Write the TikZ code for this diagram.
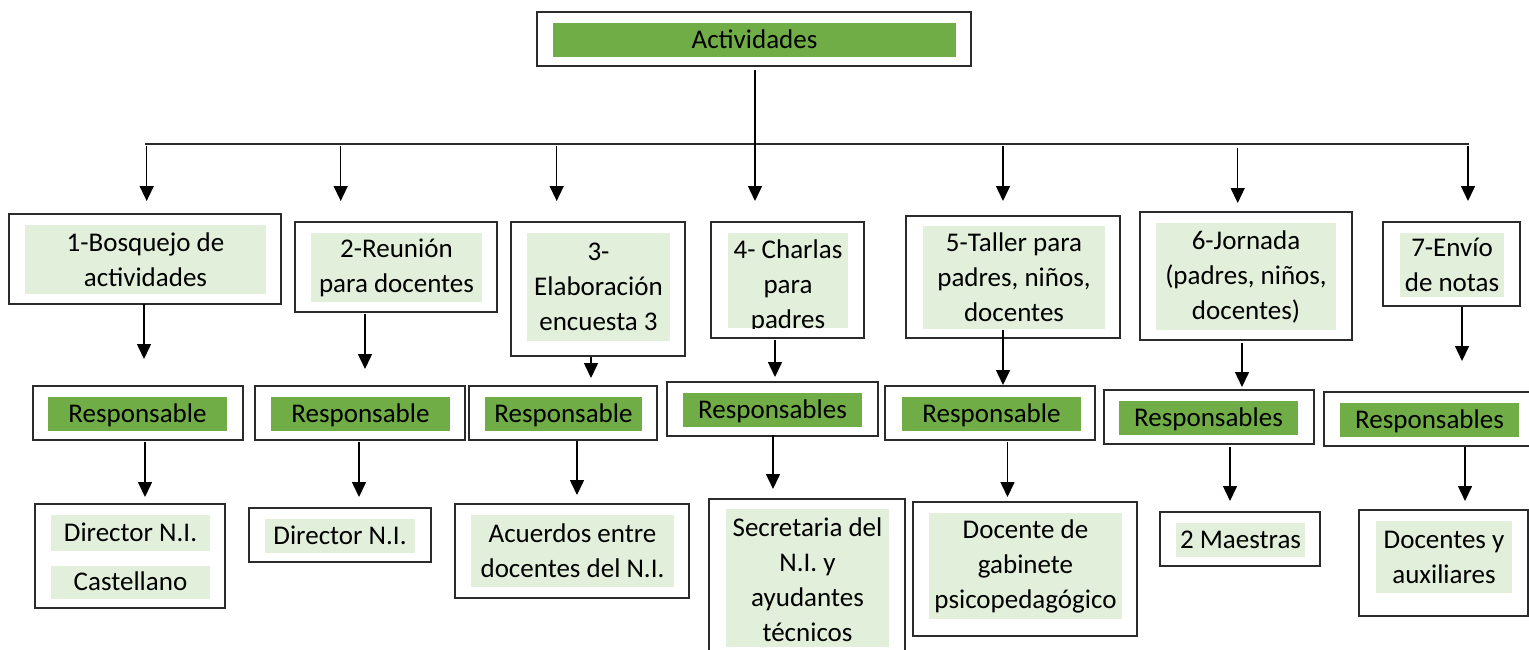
\documentclass[tikz,border=0pt]{standalone}
\usepackage{fontspec}
\setmainfont{Carlito}
\usetikzlibrary{arrows.meta,fit}
\definecolor{dgreen}{HTML}{70AD47}
\definecolor{lgreen}{HTML}{E2EFDA}
\definecolor{bord}{HTML}{2B2B2B}
\newcommand\boxat[6]{\node[#6,fit={(#2,#3) (#4,#5)}] (#1) {};}
\begin{document}
\begin{tikzpicture}[x=0.5pt,y=-0.5pt,
  obox/.style={draw=bord,line width=1pt,inner sep=0pt},
  gbox/.style={fill=lgreen,inner sep=0pt},
  dbox/.style={fill=dgreen,inner sep=0pt},
  txt/.style={font=\fontsize{13.5pt}{17.5pt}\selectfont,align=center,inner sep=0pt},
  one/.style={txt,anchor=base},
  arr/.style={line width=0.75pt,-{Triangle[width=7pt,length=7.5pt]}},
  ln/.style={line width=1pt,draw=bord}]
\useasboundingbox (0,0) rectangle (1529,649);
% top
\boxat{top}{537}{12}{971}{66}{obox}
\boxat{topg}{553}{23}{956}{57}{dbox}
\node[one] (topt) at ([yshift=-4pt]topg.center) {Actividades};
% activities
\boxat{b1}{9}{214}{281}{304}{obox}
\boxat{b1g}{25}{225}{266}{294}{gbox}
\node[txt] (b1t) at (b1g.center) {1-Bosquejo de\\actividades};
\boxat{b2}{295}{222}{497}{312}{obox}
\boxat{b2g}{311}{233}{482}{302}{gbox}
\node[txt] (b2t) at (b2g.center) {2-Reunión\\para docentes};
\boxat{b3}{511}{222}{685}{356}{obox}
\boxat{b3g}{527}{233}{670}{341}{gbox}
\node[txt] (b3t) at (b3g.center) {3-\\Elaboración\\encuesta 3};
\boxat{b4}{711}{222}{864}{338}{obox}
\boxat{b4g}{728}{233}{848}{328}{gbox}
\begin{scope}
\clip (728,233) rectangle (848,328);
\node[txt] (b4t) at (788,286) {4- Charlas\\para\\padres};
\end{scope}
\boxat{b5}{906}{216}{1120}{338}{obox}
\boxat{b5g}{923}{226}{1105}{329}{gbox}
\node[txt] (b5t) at (b5g.center) {5-Taller para\\padres, niños,\\docentes};
\boxat{b6}{1140}{212}{1352}{340}{obox}
\boxat{b6g}{1156}{223}{1336}{330}{gbox}
\node[txt] (b6t) at (b6g.center) {6-Jornada\\(padres, niños,\\docentes)};
\boxat{b7}{1383}{222}{1520}{306}{obox}
\boxat{b7g}{1400}{233}{1504}{297}{gbox}
\node[txt] (b7t) at (b7g.center) {7-Envío\\de notas};
% responsables
\boxat{r1}{33}{386}{243}{440}{obox}
\boxat{r1g}{48}{397}{227}{431}{dbox}
\node[one] (r1t) at ([yshift=-4pt]r1g.center) {Responsable};
\boxat{r2}{255}{386}{465}{440}{obox}
\boxat{r2g}{271}{397}{450}{431}{dbox}
\node[one] (r2t) at ([yshift=-4pt]r2g.center) {Responsable};
\boxat{r3}{469}{386}{657}{440}{obox}
\boxat{r3g}{485}{397}{642}{431}{dbox}
\node[one] (r3t) at ([yshift=-4pt]r3g.center) {Responsable};
\boxat{r4}{667}{382}{878}{436}{obox}
\boxat{r4g}{683}{393}{862}{427}{dbox}
\node[one] (r4t) at ([yshift=-4pt]r4g.center) {Responsables};
\boxat{r5}{885}{386}{1095}{440}{obox}
\boxat{r5g}{902}{397}{1081}{431}{dbox}
\node[one] (r5t) at ([yshift=-4pt]r5g.center) {Responsable};
\boxat{r6}{1104}{390}{1314}{444}{obox}
\boxat{r6g}{1119}{401}{1298}{435}{dbox}
\node[one] (r6t) at ([yshift=-4pt]r6g.center) {Responsables};
\boxat{r7}{1324}{392}{1530}{446}{obox}
\boxat{r7g}{1340}{403}{1519}{437}{dbox}
\node[one] (r7t) at ([yshift=-4pt]r7g.center) {Responsables};
% persons
\boxat{c1}{35}{504}{225}{608}{obox}
\boxat{c1g}{51}{515}{210}{551}{gbox}
\node[one] (c1t) at ([yshift=-4pt]c1g.center) {Director N.I.};
\boxat{c1h}{51}{566}{210}{599}{gbox}
\node[one] (c1u) at ([yshift=-4pt]c1h.center) {Castellano};
\boxat{c2}{249}{508}{431}{562}{obox}
\boxat{c2g}{265}{519}{415}{553}{gbox}
\node[one] (c2t) at ([yshift=-4pt]c2g.center) {Director N.I.};
\boxat{c3}{455}{504}{689}{598}{obox}
\boxat{c3g}{471}{515}{674}{587}{gbox}
\node[txt] (c3t) at (c3g.center) {Acuerdos entre\\docentes del N.I.};
\boxat{c4}{709}{499}{905}{680}{obox}
\boxat{c4g}{726}{509}{889}{647}{gbox}
\node[txt] (c4t) at (807.5,579.5) {Secretaria del\\N.I. y\\ayudantes\\técnicos};
\boxat{c5}{913}{502}{1137}{636}{obox}
\boxat{c5g}{929}{513}{1122}{619}{gbox}
\node[txt] (c5t) at (c5g.center) {Docente de\\gabinete\\psicopedagógico};
\boxat{c6}{1160}{512}{1320}{566}{obox}
\boxat{c6g}{1176}{523}{1305}{557}{gbox}
\node[one] (c6t) at ([yshift=-4pt]c6g.center) {2 Maestras};
\boxat{c7}{1359}{510}{1528}{616}{obox}
\boxat{c7g}{1376}{521}{1512}{593}{gbox}
\node[txt] (c7t) at (c7g.center) {Docentes y\\auxiliares};
% connectors
\coordinate (hl) at (145,144);
\coordinate (hr) at (1469,144);
\draw[ln] (hl) -- (hr);
\foreach \n/\x/\ya/\yb in {t0/755/70/201, d1/146.7/146/201, d2/340.7/146/201, d3/556.7/146/201,
  d5/1003/146/201, d6/1237.7/148/203, d7/1468/146/201,
  a1/144/304/359, a2/365/314/369, a3/591/357/378, a4/775/340/377, a5/1003/330/385,
  a6/1242/343/387, a7/1462/307/361,
  e1/145/442/497, e2/359/442/497, e3/577/441/495, e4/773/435/489, e5/1007.5/442/497,
  e6/1230/447/501, e7/1465/447/501}{
  \coordinate (\n-s) at (\x,\ya);
  \coordinate (\n-e) at (\x,\yb);
  \draw[arr] (\n-s) -- (\n-e);
}
\end{tikzpicture}
\end{document}
